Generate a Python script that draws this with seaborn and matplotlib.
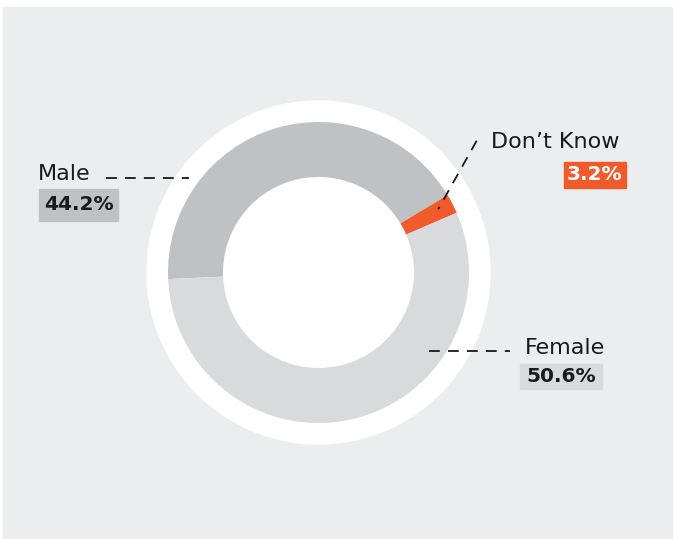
"""
Donut chart: gender split of respondents (Male / Don't Know / Female).
"""

import matplotlib
matplotlib.use("Agg")
import matplotlib.pyplot as plt
import matplotlib.patches as mpatches
import seaborn as sns

# Data
categorias = ["Male", "Don\u2019t Know", "Female"]
rotulos_pct = ["44.2%", "3.2%", "50.6%"]
# share of the ring each slice takes, as drawn in the reference
fatias = [42.1, 2.1, 55.8]

CORES = {
    "fundo": "#ECEDEF",
    "male": "#BEC2C5",
    "female": "#D9DADC",
    "dk": "#F15A2B",
    "texto": "#1A1A1A",
}
cores_fatias = [CORES["male"], CORES["dk"], CORES["female"]]

sns.set_theme(style="white")
plt.rcParams["font.family"] = ["DejaVu Sans"]

W, H = 673, 539
fig = plt.figure(figsize=(W / 100, H / 100), dpi=100, facecolor="white")
ax = fig.add_axes([0, 0, 1, 1])

# grey panel
ax.add_patch(mpatches.Rectangle((3, 0), W - 3, H - 7, color=CORES["fundo"], zorder=0))

cx, cy = 318.5, 266.5
# white halo behind the ring
ax.add_patch(mpatches.Circle((cx, cy), 171.5, color="white", zorder=1))

ax.pie(
    fatias,
    colors=cores_fatias,
    center=(cx, cy),
    radius=150.5,
    startangle=182.5,
    counterclock=False,
    wedgeprops={"width": 150.5 - 95.5, "linewidth": 0, "zorder": 2},
    frame=True,
)
ax.set_xlim(0, W)
ax.set_ylim(0, H)
ax.set_aspect("equal")
ax.axis("off")

linha = dict(color=CORES["texto"], linewidth=1.3, linestyle=(0, (6, 4.5)), zorder=4)
fs_nome = 16
fs_pct = 14.5

# Male
ax.plot([106, 189], [361, 361], **linha)
ax.text(38, 359, categorias[0], fontsize=fs_nome, color=CORES["texto"], va="baseline", ha="left")
ax.add_patch(mpatches.Rectangle((39, 318), 79, 32, color=CORES["male"], zorder=3))
ax.text(78.5, 334, rotulos_pct[0], fontsize=fs_pct, fontweight="bold", color=CORES["texto"],
        ha="center", va="center", zorder=4)

# Don't Know
ax.plot([476.7, 438.3], [398.3, 330], **linha)
ax.text(491, 391.5, categorias[1], fontsize=fs_nome, color=CORES["texto"], va="baseline", ha="left")
ax.add_patch(mpatches.Rectangle((564, 351), 62, 26, color=CORES["dk"], zorder=3))
ax.text(595, 364, rotulos_pct[1], fontsize=fs_pct, fontweight="bold", color="white",
        ha="center", va="center", zorder=4)

# Female
ax.plot([429, 510], [188, 188], **linha)
ax.text(525, 184.5, categorias[2], fontsize=fs_nome, color=CORES["texto"], va="baseline", ha="left")
ax.add_patch(mpatches.Rectangle((520, 150), 82, 25, color=CORES["female"], zorder=3))
ax.text(561, 162.5, rotulos_pct[2], fontsize=fs_pct, fontweight="bold", color=CORES["texto"],
        ha="center", va="center", zorder=4)

fig.savefig("out.png", dpi=100, facecolor="white")
plt.close(fig)
